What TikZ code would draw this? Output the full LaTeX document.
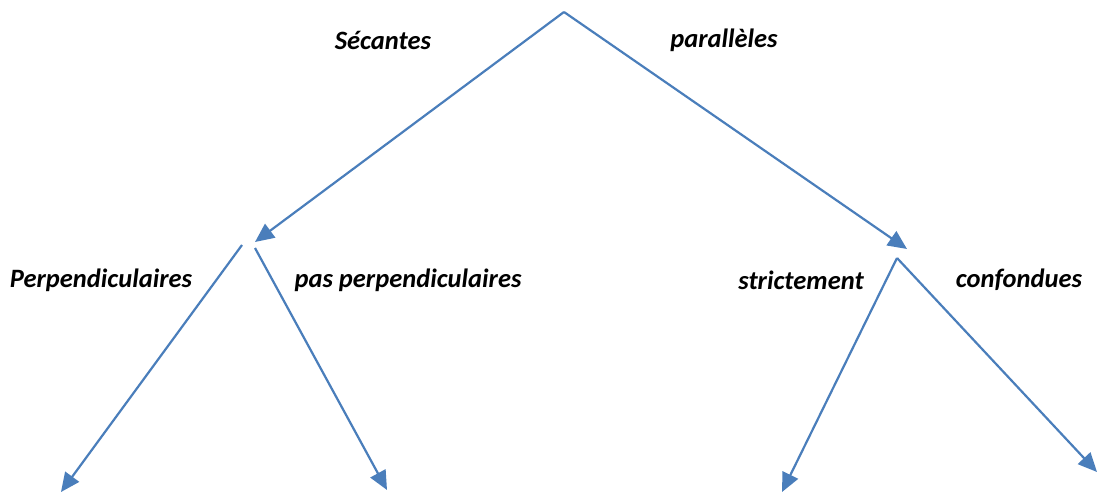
\documentclass[tikz,border=0pt]{standalone}
\usepackage{fontspec}
\setmainfont{Carlito}
\usepackage{tikz}
\usetikzlibrary{arrows.meta,positioning}
\definecolor{branchblue}{HTML}{4A7EBB}
\tikzset{
  branch/.style={draw=branchblue,line width=2.2pt,-{Triangle[length=19pt,width=17pt]}},
  caselabel/.style={font=\fontsize{26.5}{30}\selectfont\bfseries\itshape,inner sep=0pt}
}

\begin{document}
\begin{tikzpicture}[x=1pt,y=-1pt]
\useasboundingbox (0,0) rectangle (1097,492);
\coordinate (top) at (564,12);
\coordinate (secend) at (255,242);
\coordinate (parend) at (907,249);
\coordinate (perpstart) at (242,245);
\coordinate (passtart) at (255,248);
\coordinate (strstart) at (897,258);
\coordinate (perpend) at (61,492);
\coordinate (pasend) at (387,490);
\coordinate (strend) at (782,492);
\coordinate (confend) at (1097,472);
\node[caselabel] (secantes) at (383,40) {Sécantes};
\node[caselabel] (paralleles) at (724,40) {parallèles};
\node[caselabel] (perp) at (101,280) {Perpendiculaires};
\node[caselabel] (pasperp) at (408,280) {pas perpendiculaires};
\node[caselabel] (strict) at (801,280) {strictement};
\node[caselabel] (confondues) at (1019,280) {confondues};
\draw[branch] (top) -- (secend);
\draw[branch] (top) -- (parend);
\draw[branch] (perpstart) -- (perpend);
\draw[branch] (passtart) -- (pasend);
\draw[branch] (strstart) -- (strend);
\draw[branch] (strstart) -- (confend);
\end{tikzpicture}
\end{document}
